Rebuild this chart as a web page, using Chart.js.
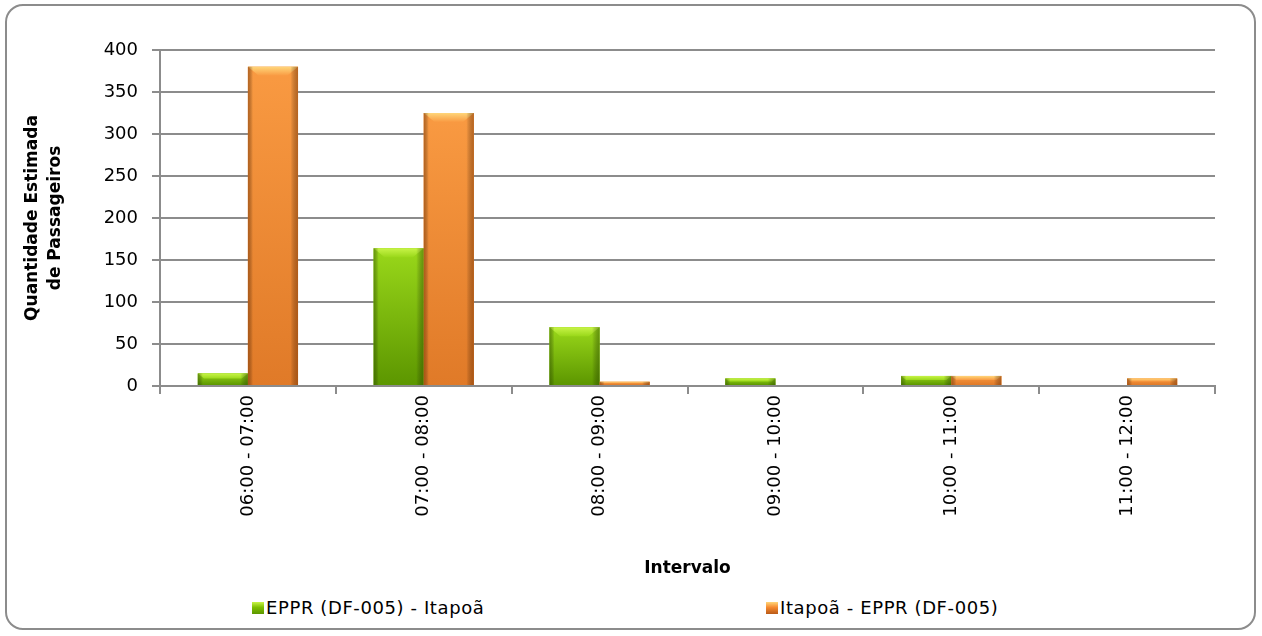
<!DOCTYPE html>
<html>
<head>
<meta charset="utf-8">
<script src="https://cdn.jsdelivr.net/npm/chart.js@4.4.1/dist/chart.umd.min.js"></script>
<style>
  body { margin: 0; background: #fff; font-family: "DejaVu Sans", sans-serif; }
  #frame { position: absolute; left: 5px; top: 4px; width: 1251px; height: 626px; box-sizing: border-box;
           border: 2px solid #8c8c8c; border-radius: 18px; }
  #wrap { position: absolute; left: 0; top: 0; width: 1262px; height: 590px; }
  .leg { position: absolute; top: 597px; font-size: 18px; color: #000; white-space: nowrap; letter-spacing: 0.6px; }
  .leg i { display: inline-block; width: 12px; height: 12px; margin-right: 2px; vertical-align: 0px; }
</style>
</head>
<body>
<div id="frame"></div>
<div id="wrap"><canvas id="chart"></canvas></div>
<div id="legend"></div>
<script>
// dados
const intervalos = ['06:00 - 07:00', '07:00 - 08:00', '08:00 - 09:00', '09:00 - 10:00', '10:00 - 11:00', '11:00 - 12:00'];
const serieNomes = ['EPPR (DF-005) - Itapoã', 'Itapoã - EPPR (DF-005)'];
const eppParaItapoa = [15, 164, 70, 9, 12, 0];
const itapoaParaEpp = [380, 325, 5, 0, 12, 9];
const yTicks = [0, 50, 100, 150, 200, 250, 300, 350, 400];

// cores (corpo, topo claro, base escura, borda)
const tons = [
    { main: '#7dbf00', top: '#9ad81a', bottom: '#5c9600', cap: '#c8f448', edge: 'rgba(40,70,0,0.45)' },
    { main: '#f68a30', top: '#f99a42', bottom: '#e07a28', cap: '#ffd67a', edge: 'rgba(120,50,0,0.5)' }
];

// sombreamento das barras, por cima do que o Chart.js desenha
const bevel = {
    id: 'bevel',
    afterDatasetsDraw(chart) {
        const ctx = chart.ctx;
        chart.data.datasets.forEach((ds, i) => {
            const meta = chart.getDatasetMeta(i);
            const t = tons[i];
            meta.data.forEach(bar => {
                const h = bar.base - bar.y;
                if (h < 1) return;
                const l = bar.x - bar.width / 2, w = bar.width;
                ctx.save();
                const g = ctx.createLinearGradient(0, bar.y, 0, bar.base);
                g.addColorStop(0, t.top);
                g.addColorStop(1, t.bottom);
                ctx.fillStyle = g;
                ctx.fillRect(l, bar.y, w, h);
                // topo claro
                const capH = Math.min(9, h * 0.45);
                const cg = ctx.createLinearGradient(0, bar.y, 0, bar.y + capH);
                cg.addColorStop(0, t.cap);
                cg.addColorStop(1, t.top);
                ctx.fillStyle = cg;
                ctx.beginPath();
                ctx.moveTo(l, bar.y);
                ctx.lineTo(l + w, bar.y);
                ctx.lineTo(l + w - capH * 1.2, bar.y + capH);
                ctx.lineTo(l + capH * 1.2, bar.y + capH);
                ctx.closePath();
                ctx.fill();
                // bordas laterais
                const sg = ctx.createLinearGradient(l, 0, l + w, 0);
                sg.addColorStop(0, t.edge);
                sg.addColorStop(0.1, 'rgba(0,0,0,0)');
                sg.addColorStop(0.85, 'rgba(0,0,0,0)');
                sg.addColorStop(1, t.edge);
                ctx.fillStyle = sg;
                ctx.fillRect(l, bar.y, w, h);
                ctx.restore();
            });
        });
    }
};

const tickFont = { family: 'DejaVu Sans', size: 18 };
const titleFont = { family: 'DejaVu Sans', size: 17, weight: 'bold', lineHeight: 1.3 };

new Chart('chart', {
    type: 'bar',
    data: {
        labels: intervalos,
        datasets: [{
            label: serieNomes[0],
            data: eppParaItapoa,
            backgroundColor: tons[0].main,
            categoryPercentage: 0.57,
            barPercentage: 1
        }, {
            label: serieNomes[1],
            data: itapoaParaEpp,
            backgroundColor: tons[1].main,
            categoryPercentage: 0.57,
            barPercentage: 1
        }]
    },
    options: {
        responsive: true,
        maintainAspectRatio: false,
        animation: false,
        layout: { padding: { left: 12, right: 47, top: 50, bottom: 8 } },
        plugins: {
            legend: { display: false },
            tooltip: { enabled: false }
        },
        scales: {
            x: {
                grid: { display: true, drawOnChartArea: false, color: '#8c8c8c', lineWidth: 2, tickLength: 8, offset: true },
                border: { color: '#8c8c8c', width: 2 },
                ticks: { maxRotation: 90, minRotation: 90, font: tickFont, color: '#000', padding: 1 },
                title: { display: true, text: 'Intervalo', font: titleFont, color: '#000', padding: { top: 0, bottom: 2 } },
                afterFit(s) { s.height = 196; }
            },
            y: {
                min: 0,
                max: 400,
                afterBuildTicks(s) { s.ticks = yTicks.map(v => ({ value: v })); },
                grid: { color: '#8c8c8c', lineWidth: 2, tickLength: 8 },
                border: { color: '#8c8c8c', width: 2 },
                ticks: { font: tickFont, color: '#000', padding: 14 },
                title: { display: true, text: ['Quantidade Estimada', 'de Passageiros'], font: titleFont, color: '#000', padding: { top: 10, bottom: 0 } },
                afterFit(s) { s.width = 148; }
            }
        }
    },
    plugins: [bevel]
});

// legenda em HTML, a partir dos nomes das séries
const legend = document.getElementById('legend');
const legLeft = [252, 766];
const legBox = [
    'linear-gradient(#c8f448, #7dbf00 45%, #5c9600)',
    'linear-gradient(#ffd67a, #f68a30 45%, #b85a18)'
];
serieNomes.forEach((nome, i) => {
    const d = document.createElement('div');
    d.className = 'leg';
    d.style.left = legLeft[i] + 'px';
    d.innerHTML = '<i style="background:' + legBox[i] + '"></i>' + nome;
    legend.appendChild(d);
});
</script>
</body>
</html>
